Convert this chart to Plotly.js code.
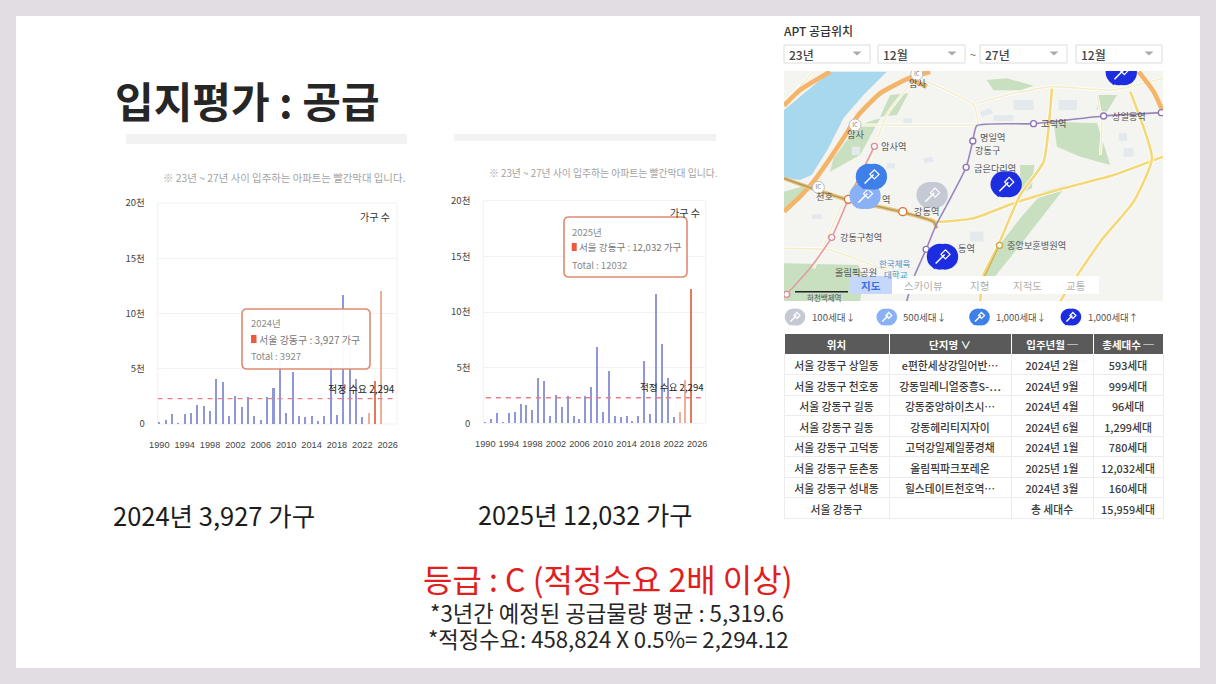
<!DOCTYPE html>
<html><head><meta charset="utf-8">
<script src="https://cdn.plot.ly/plotly-3.0.1.min.js"></script>
<style>html,body{margin:0;padding:0;background:#e2dde3;overflow:hidden}#c{width:1216px;height:684px}</style>
</head><body><div id="c"></div>
<script>
const years=[1990,1991,1992,1993,1994,1995,1996,1997,1998,1999,2000,2001,2002,2003,2004,2005,2006,2007,2008,2009,2010,2011,2012,2013,2014,2015,2016,2017,2018,2019,2020,2021,2022,2023,2024,2025];
const units=[150,350,900,100,900,1000,1700,1600,1200,4100,3800,700,2550,1500,2450,700,350,2450,3270,6850,1000,4700,700,600,700,250,700,5600,800,11650,7150,4050,600,1000,3927,12032];
const yearTicks=[1990,1994,1998,2002,2006,2010,2014,2018,2022,2026];
const unitTicks=[0,5000,10000,15000,20000];
const unitTickText=['0','5천','10천','15천','20천'];
const demand=2294;
const tableHead=['위치','단지명\u00a0∨','입주년월\u00a0─','총세대수\u00a0─'];
const colPlace=['서울\u00a0강동구\u00a0상일동','서울\u00a0강동구\u00a0천호동','서울\u00a0강동구\u00a0길동','서울\u00a0강동구\u00a0길동','서울\u00a0강동구\u00a0고덕동','서울\u00a0강동구\u00a0둔촌동','서울\u00a0강동구\u00a0성내동','서울\u00a0강동구'];
const colName=['e편한세상강일어반…','강동밀레니얼중흥S-…','강동중앙하이츠시…','강동헤리티지자이','고덕강일제일풍경채','올림픽파크포레온','힐스테이트천호역…',''];
const colMonth=['2024년\u00a02월','2024년\u00a09월','2024년\u00a04월','2024년\u00a06월','2024년\u00a01월','2025년\u00a01월','2024년\u00a03월','총\u00a0세대수'];
const colCount=['593세대','999세대','96세대','1,299세대','780세대','12,032세대','160세대','15,959세대'];
// map geometry (map units)
const river=[[150,170],[320,170],[250,240],[190,310],[145,400],[95,480],[60,495],[12,488],[12,285]];
const river2=[[12,530],[50,530],[12,570]];
const parks=[
 [[620,195],[680,190],[760,212],[720,226],[640,226]],
 [[820,320],[950,325],[990,450],[900,425],[830,395]],
 [[720,450],[762,450],[755,520],[720,535]],
 [[860,510],[790,530],[720,610],[650,700],[610,790],[640,790],[720,690],[790,600]],
 [[12,745],[235,750],[250,790],[240,858],[12,858]],
 [[330,240],[385,235],[350,300],[300,305]],
 [[160,430],[235,330],[300,310],[240,420],[150,470]],
 [[950,240],[1010,240],[980,290],[950,285]],
 [[12,530],[100,505],[70,545],[12,590]]];
const blocks=[
 [[215,395],[240,395],[240,420],[215,420]],[[430,430],[455,425],[460,440],[435,445]],
 [[320,445],[345,445],[345,460],[320,460]],[[835,255],[890,255],[890,285],[835,285]],
 [[1015,355],[1040,355],[1040,378],[1015,378]],[[1030,400],[1060,400],[1060,425],[1030,425]],
 [[570,650],[610,650],[610,680],[570,680]],[[95,598],[125,598],[125,612],[95,612]],
 [[640,300],[700,300],[700,318],[640,318]],[[370,310],[395,310],[395,325],[370,325]],
 [[600,290],[630,280],[640,295],[605,305]],[[700,255],[760,255],[760,285],[700,285]]];
const orangeRoads=[
 [[450,170],[385,190],[300,235],[235,300],[190,370],[150,430],[100,500],[60,545],[12,590]],
 [[150,170],[60,225],[12,272]],
 [[1075,170],[1120,230],[1148,290]],
 [[385,190],[440,215]]];
const yellowRoads=[
 [[1148,425],[1000,480],[850,520],[700,565],[580,610],[470,620],[450,610]],
 [[815,220],[790,440],[720,540],[650,700],[610,780],[600,858]],
 [[1050,230],[1115,430],[1060,560],[960,680],[840,858]],
 [[590,265],[700,235],[815,215],[1000,225],[1148,190]],
 [[230,330],[590,330]],
 [[380,220],[320,300],[270,430],[190,560],[150,650],[100,760]],
 [[430,195],[580,270],[595,330]],
 [[100,170],[50,225],[12,262]],
 [[950,240],[965,330],[960,420]],
 [[12,700],[150,705],[300,760],[400,800]]];
const brownLine=[[12,490],[110,525],[205,555],[360,590],[460,620],[470,640]];
const purpleLine=[[1148,293],[970,303],[760,326],[590,332],[578,378],[558,457],[500,570],[468,630],[438,703],[400,790],[380,858]];
const pinkLine=[[283,394],[205,553],[155,667],[90,760],[20,838],[12,845]];
const goldLine=[[658,691],[610,790]];
const pinkStations=[[283,394],[155,667],[20,838]];
const purpleStations=[[1143,293],[970,303],[760,326],[578,378],[558,457],[438,703]];
const goldStations=[[658,691]];
const multiStations=[[368,590],[205,553]];
const icNodes=[[410,178],[225,330],[115,517]];
const pinGray=[[456,540]];
const pinLight=[[255,543]];
const pinBlue=[[274,485]];
const pinDark=[[678,508],[487,725],[1023,172]];
const keyGray=[[45,906]],keyLight=[[320,906]],keyBlue=[[598,906]],keyDark=[[872,906]];

const W=1216,H=684;
const px=x=>x/W, py=y=>1-y/H;
const xs=a=>a.map(p=>p[0]), ys=a=>a.map(p=>p[1]);
const FONT='"Noto Sans CJK KR","Noto Sans",sans-serif';
const anns=[];
function T(x,y,text,size,color,anchor,weight){anns.push({xref:'paper',yref:'paper',x:px(x),y:py(y),text:text,showarrow:false,xanchor:anchor||'left',yanchor:'middle',align:anchor||'left',borderpad:0,font:{family:FONT,size:size,color:color,weight:weight||400}});}
const shapes=[];
function R(x0,y0,x1,y1,fill,line,lw,layer){shapes.push({type:'rect',xref:'paper',yref:'paper',x0:px(x0),y0:py(y0),x1:px(x1),y1:py(y1),fillcolor:fill,line:{color:line||'rgba(0,0,0,0)',width:lw||0},layer:layer||'below'});}
function Tip(x0,y0,x1,y1){const r=5,c=py(y0),d=py(y1),rx=r/W,ry=r/H,A=px(x0),B=px(x1);
 shapes.push({type:'path',xref:'paper',yref:'paper',layer:'above',fillcolor:'rgba(255,255,255,0.96)',line:{color:'#e08a70',width:1.6},
 path:`M${A+rx},${c}L${B-rx},${c}Q${B},${c} ${B},${c-ry}L${B},${d+ry}Q${B},${d} ${B-rx},${d}L${A+rx},${d}Q${A},${d} ${A},${d+ry}L${A},${c-ry}Q${A},${c} ${A+rx},${c}Z`});}
function Tri(x,y){const w=4.5,h=4;shapes.push({type:'path',xref:'paper',yref:'paper',layer:'above',fillcolor:'#a9a9a9',line:{width:0},path:`M${px(x-w)},${py(y-h/2)}L${px(x+w)},${py(y-h/2)}L${px(x)},${py(y+h/2)}Z`});}

// page
R(16,16,1200,668,'#ffffff');
R(126,134,407,144,'#f3f2f2');
R(454,134,716,141,'#f3f2f2');
T(114,100,'입지평가 : 공급',42,'#262626','left',700);
T(162,177,'※ 23년 ~ 27년 사이 입주하는 아파트는 빨간막대 입니다.',10.4,'#a3a3a3');
T(488,173,'※ 23년 ~ 27년 사이 입주하는 아파트는 빨간막대 입니다.',9.8,'#a3a3a3');
T(112,514,'2024년 3,927 가구',25.5,'#1c1c1c');
T(477,514,'2025년 12,032 가구',25.3,'#1c1c1c');
T(608,578,'등급 : C (적정수요 2배 이상)',32,'#e0201c','center');
T(607,612,'*3년간 예정된 공급물량 평균 : 5,319.6',22.3,'#262626','center');
T(608,638,'*적정수요: 458,824 X 0.5%= 2,294.12',22.2,'#262626','center');
// chart notes
T(375,216,'가구 수',10,'#333','center');
T(685,213,'가구 수',10,'#333','center');
Tip(242,309,370,369);Tip(564,217,687,277);
T(250,323,'2024년',9.5,'#8a8a8a');
R(251,335,256.5,343,'#ee5a3a',null,0,'above');
T(258,339,'서울 강동구 : 3,927 가구',10,'#777');
T(250,356,'Total : 3927',9.5,'#8a8a8a');
T(571,232,'2025년',9.5,'#8a8a8a');
R(571.7,243,576.7,251,'#ee5a3a',null,0,'above');
T(578,247,'서울 강동구 : 12,032 가구',9.6,'#777');
T(571,265,'Total : 12032',9.5,'#8a8a8a');
T(361.5,388,'적정 수요 2,294',10,'#222','center');
T(672,387,'적정 수요 2,294',9.6,'#222','center');
// right column
T(783,30,'APT 공급위치',12,'#333','left',500);
[[784,870,'23년'],[878,965,'12월'],[980,1067,'27년'],[1076,1162,'12월']].forEach(d=>{
 R(d[0],45,d[1],63,'#ffffff','#dcdcdc',1);T(d[0]+4,54,d[2],12,'#444','left',500);Tri(d[1]-13,53.5);});
T(973,54,'~',11,'#666','center');
// map labels
const mapLabels=[[917,83,'암사','c'],[855,134,'암사','c'],[880,146,'암사역'],[824,196,'천호','c'],[979,137,'명일역'],[974,150,'강동구'],[973,168,'굽은다리역'],[1040,123,'고덕역'],[1111,116,'상일동역'],[913,211,'강동역'],[839,237,'강동구청역'],[957,248,'동역'],[1006,245,'중앙보훈병원역'],[881,199,'역'],[834,272,'올림픽공원']];
mapLabels.forEach(l=>T(l[0],l[1],l[2],9.2,'#555',l[3]?'center':'left'));
T(806,297,'하천백제역',7.5,'#555');
T(894,262.5,'한국체육',8.5,'#4a90c8','center');T(896,274,'대학교',8.5,'#4a90c8','center');
R(849,276,1099,294,'#ffffff',null,0,'above');
R(849,276,892,294,'#c5d8fb',null,0,'above');
T(870.5,285,'지도',10.5,'#3b6fe0','center',700);
[[924,'스카이뷰'],[979,'지형'],[1027,'지적도'],[1076,'교통']].forEach(t=>T(t[0],285,t[1],10.5,'#b0b0b0','center'));
R(795,291,848,292.5,'#222',null,0,'above');
T(811,317,'100세대↓',9.6,'#555');T(902,317,'500세대↓',9.6,'#555');T(995,317,'1,000세대↓',9.4,'#555');T(1087,317,'1,000세대↑',9.4,'#555');

const traces=[];
function bars(xa,ya,hi,width){
 traces.push({type:'bar',x:years,y:units,xaxis:xa,yaxis:ya,width:width,hoverinfo:'skip',
  marker:{color:years.map(y=>y===hi?'#e2795c':y>=2023?'#eeae98':'#8f97d8'),line:{width:0}}});
 traces.push({type:'scatter',mode:'lines',x:[1985,2030],y:[demand,demand],xaxis:xa,yaxis:ya,hoverinfo:'skip',line:{color:'#e5808a',width:1.3,dash:'5px,5px'}});
}
bars('x','y',2024,0.32);
bars('x2','y2',2025,0.34);
function L(pts,color,w){traces.push({type:'scatter',mode:'lines',x:xs(pts),y:ys(pts),xaxis:'x3',yaxis:'y3',hoverinfo:'skip',line:{color:color,width:w,shape:'spline',smoothing:0.5}});}
function F(pts,color){traces.push({type:'scatter',mode:'lines',x:xs(pts).concat(pts[0][0]),y:ys(pts).concat(pts[0][1]),xaxis:'x3',yaxis:'y3',fill:'toself',fillcolor:color,hoverinfo:'skip',line:{width:0,color:color}});}
F(river,'#a8d8ee');F(river2,'#a8d8ee');
parks.forEach(p=>F(p,'#c8dfc0'));
blocks.forEach(p=>F(p,'#e4e9ee'));
yellowRoads.forEach((r,i)=>{const main=i<3;L(r,'#ffffff',main?4:3);L(r,main?'#f4d878':'#f3eeca',main?2.6:1.6);});
orangeRoads.forEach(r=>L(r,'#f6b469',4.6));
L(brownLine,'#e9c87a',4);L(brownLine,'#b69a66',1.6);L(goldLine,'#c9b158',1.4);
L(purpleLine,'#9a84bd',1.6);L(pinkLine,'#e59aa6',1.6);
function St(pts,c,s){traces.push({type:'scatter',mode:'markers',x:xs(pts),y:ys(pts),xaxis:'x3',yaxis:'y3',hoverinfo:'skip',marker:{symbol:'circle',size:s||6,color:'#fff',line:{color:c,width:1.4}}});}
St(pinkStations,'#e08a9a');St(purpleStations,'#8f74b5');St(goldStations,'#c9a83e');St(multiStations,'#d9743a',8);
traces.push({type:'scatter',mode:'markers+text',x:xs(icNodes),y:ys(icNodes),xaxis:'x3',yaxis:'y3',hoverinfo:'skip',text:icNodes.map(()=>'IC'),textposition:'middle center',textfont:{size:6,color:'#777',family:FONT},marker:{symbol:'circle',size:12,color:'#fff',line:{color:'#bbb',width:1}}});
function Pin(pts,c,k){const m=(sym,size,col,lw,dx,dy)=>traces.push({type:'scatter',mode:'markers',x:xs(pts).map(v=>v+dx*k),y:ys(pts).map(v=>v+dy*k),xaxis:'x3',yaxis:'y3',hoverinfo:'skip',cliponaxis:true,
  marker:{symbol:sym,size:size*k,color:col,opacity:1,line:{color:lw?col:c,width:lw||0}}});
 m('triangle-down',7,c,0,-24,28);
 m('circle',26,c,0,-8,0);m('circle',26,c,0,8,0);
 m('line-ne',9,'#fff',1.5,-7,7);
 m('diamond-open',7,'#fff',1.2,9,-7);
}
Pin(pinGray,'#c4c9d4',1);Pin(pinLight,'#8ab0f5',1);Pin(pinBlue,'#3f7fe8',1);Pin(pinDark,'#1d2ee0',1);
Pin(keyGray,'#c4c9d4',.66);Pin(keyLight,'#8ab0f5',.66);Pin(keyBlue,'#3f7fe8',.66);Pin(keyDark,'#1d2ee0',.66);

traces.push({type:'table',domain:{x:[px(784),px(1163)],y:[py(520),py(333.5)]},columnwidth:[105,122,82,70],
 header:{values:tableHead,height:20.5,align:'center',fill:{color:'#5a5a5a'},line:{color:'#ffffff',width:1},font:{family:FONT,size:10.5,color:'#ffffff',weight:700}},
 cells:{values:[colPlace,colName,colMonth,colCount],height:20.5,align:'center',fill:{color:'#ffffff'},line:{color:'#ececec',width:1},font:{family:FONT,size:10.8,color:'#3a3a3a',weight:500}}});

function xAxis(a,b,r){return {domain:[px(a),px(b)],range:r,tickmode:'array',tickvals:yearTicks,ticktext:yearTicks.map(String),showgrid:false,zeroline:false,showline:false,ticks:'outside',ticklen:12,tickcolor:'rgba(0,0,0,0)',tickfont:{family:'"Liberation Sans","Noto Sans",sans-serif',size:9.2,color:'#444'},tickangle:0,automargin:false};}
function yAxis(t,b,anchor){return {domain:[py(b),py(t)],range:[0,20000],anchor:anchor,tickmode:'array',tickvals:unitTicks,ticktext:unitTickText,showgrid:true,gridcolor:'#f1f1f6',gridwidth:1,zeroline:false,showline:false,ticks:'outside',ticklen:10,tickcolor:'rgba(0,0,0,0)',tickfont:{family:FONT,size:9.5,color:'#444'},automargin:false};}
const layout={width:W,height:H,margin:{l:0,r:0,t:0,b:0},autosize:false,showlegend:false,paper_bgcolor:'#e2dde3',plot_bgcolor:'rgba(0,0,0,0)',bargap:0,barmode:'overlay',
 xaxis:xAxis(157.7,397,[1989.75,2027.47]),yaxis:yAxis(203,424,'x'),
 xaxis2:Object.assign(xAxis(483.3,705.7,[1989.66,2027.45]),{anchor:'y2'}),yaxis2:yAxis(200.7,423.3,'x2'),
 xaxis3:{domain:[px(784),px(1163)],range:[12,1148],visible:false,fixedrange:true,anchor:'y3'},
 yaxis3:{domain:[py(330),py(71)],range:[945,168],visible:false,fixedrange:true,anchor:'x3'},
 shapes:shapes.concat([{type:'rect',xref:'paper',yref:'paper',x0:px(784),x1:px(1163),y0:py(71),y1:py(301),fillcolor:'#f4f4f1',line:{width:0},layer:'below'},
  {type:'rect',xref:'paper',yref:'paper',x0:px(157.7),x1:px(397),y0:py(203),y1:py(424),fillcolor:'rgba(0,0,0,0)',line:{color:'#f1f1f6',width:1},layer:'below'},
  {type:'rect',xref:'paper',yref:'paper',x0:px(483.3),x1:px(705.7),y0:py(200.7),y1:py(423.3),fillcolor:'rgba(0,0,0,0)',line:{color:'#f1f1f6',width:1},layer:'below'}]),
 annotations:anns};
Plotly.newPlot('c',traces,layout,{displayModeBar:false,staticPlot:true});
</script></body></html>
